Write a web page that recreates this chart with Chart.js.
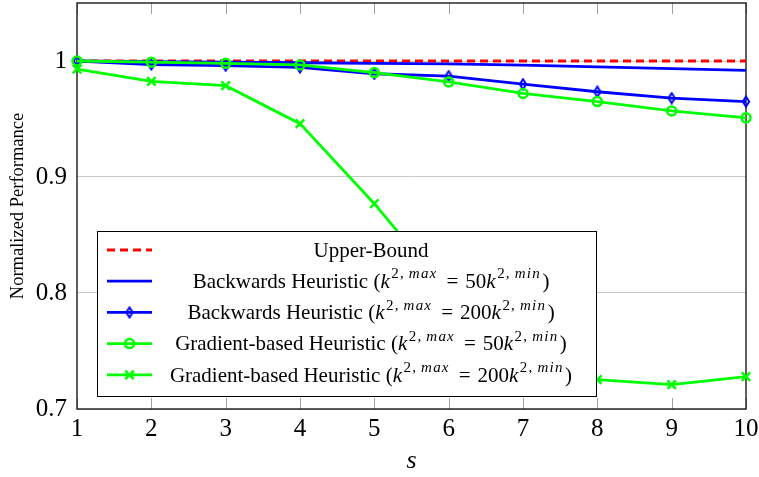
<!DOCTYPE html>
<html>
<head>
<meta charset="utf-8">
<script src="https://cdn.jsdelivr.net/npm/chart.js@4.4.0/dist/chart.umd.min.js"></script>
<style>
  html, body { margin: 0; padding: 0; background: #fff; }
  #wrap { width: 759px; height: 477px; }
</style>
</head>
<body>
<div id="wrap"><canvas id="perf"></canvas></div>
<script>
// s values on the x axis
const sValues = ['1', '2', '3', '4', '5', '6', '7', '8', '9', '10'];
const yTicks = [0.7, 0.8, 0.9, 1];

// normalized performance per heuristic
const upperBound   = [1, 1, 1, 1, 1, 1, 1, 1, 1, 1];
const backwards50  = [1.000, 0.9995, 0.999, 0.9985, 0.998, 0.9975, 0.9965, 0.995, 0.9935, 0.992];
const backwards200 = [1.000, 0.997, 0.996, 0.9945, 0.989, 0.987, 0.980, 0.9735, 0.968, 0.965];
const gradient50   = [1.000, 0.999, 0.998, 0.9966, 0.990, 0.982, 0.972, 0.965, 0.957, 0.951];
const gradient200  = [0.993, 0.9825, 0.9787, 0.946, 0.877, 0.80, 0.75, 0.7253, 0.721, 0.728];

const seriesNames = ['Upper-Bound', 'Backwards Heuristic', 'Backwards Heuristic',
                     'Gradient-based Heuristic', 'Gradient-based Heuristic'];
const kRatios = [null, 50, 200, 50, 200];

const SERIF = "'Liberation Serif', 'Times New Roman', serif";
const RED = '#ff0000', BLUE = '#0000ff', GREEN = '#00ff00';

// tall diamond marker (chart.js rectRot is square)
function makeDiamond(color) {
  const c = document.createElement('canvas');
  c.width = 10; c.height = 13;
  const g = c.getContext('2d');
  g.strokeStyle = color;
  g.lineWidth = 2;
  g.beginPath();
  g.moveTo(5, 1.5); g.lineTo(8.2, 6.5); g.lineTo(5, 11.5); g.lineTo(1.8, 6.5);
  g.closePath();
  g.stroke();
  return c;
}
const diamond = makeDiamond(BLUE);

const datasets = [
  { data: upperBound, borderColor: RED, borderDash: [8, 5], pointRadius: 0, order: 5 },
  { data: backwards50, borderColor: BLUE, pointRadius: 0, order: 4 },
  { data: backwards200, borderColor: BLUE, pointStyle: diamond, pointRadius: 5, order: 3 },
  { data: gradient50, borderColor: GREEN, pointStyle: 'circle', pointRadius: 4.5,
    pointBorderWidth: 2.5, pointBackgroundColor: 'rgba(0,0,0,0)', order: 2 },
  { data: gradient200, borderColor: GREEN, pointStyle: 'crossRot', pointRadius: 6,
    pointBorderWidth: 2.5, order: 1 }
].map(d => Object.assign({ borderWidth: 2.8, tension: 0, clip: false, fill: false }, d));

// box, inside ticks
const framePlugin = {
  id: 'frame',
  beforeDatasetsDraw(chart) {
    const { ctx, chartArea: a, scales } = chart;
    ctx.save();
    ctx.strokeStyle = '#a0a0a0';
    ctx.lineWidth = 1;
    scales.x.ticks.forEach((t, i) => {
      const x = Math.round(scales.x.getPixelForTick(i)) + 0.5;
      ctx.beginPath();
      ctx.moveTo(x, a.bottom); ctx.lineTo(x, a.bottom - 11);
      ctx.moveTo(x, a.top); ctx.lineTo(x, a.top + 11);
      ctx.stroke();
    });
    ctx.strokeStyle = '#1a1a1a';
    ctx.lineWidth = 1.4;
    ctx.strokeRect(a.left, a.top, a.right - a.left, a.bottom - a.top);
    ctx.restore();
  }
};

// label pieces: text, font, raise, letter spacing, gap after
function labelParts(name, ratio) {
  const main = '21px ' + SERIF, it = 'italic 21px ' + SERIF;
  const sup = '15px ' + SERIF, supIt = 'italic 15px ' + SERIF;
  if (ratio === null) return [{ t: name, f: main }];
  return [
    { t: name + ' (', f: main },
    { t: 'k', f: it, after: 1.5 },
    { t: '2,', f: sup, up: 9.5, ls: 1.2, after: 4 },
    { t: 'max', f: supIt, up: 9.5, ls: 1.2, after: 9 },
    { t: '=', f: main, after: 7 },
    { t: String(ratio), f: main },
    { t: 'k', f: it, after: 1.5 },
    { t: '2,', f: sup, up: 9.5, ls: 1.2, after: 4 },
    { t: 'min', f: supIt, up: 9.5, ls: 1.2, after: 1.5 },
    { t: ')', f: main }
  ];
}

function partWidth(ctx, p) {
  ctx.font = p.f;
  const ls = p.ls || 0;
  let w = 0;
  for (const ch of p.t) w += ctx.measureText(ch).width + ls;
  if (!ls) w = ctx.measureText(p.t).width;
  return w + (p.after || 0);
}

function drawPart(ctx, p, x, y) {
  ctx.font = p.f;
  const ls = p.ls || 0;
  if (!ls) { ctx.fillText(p.t, x, y); return; }
  for (const ch of p.t) {
    ctx.fillText(ch, x, y);
    x += ctx.measureText(ch).width + ls;
  }
}

function drawSample(ctx, ds, x0, x1, y) {
  ctx.save();
  ctx.strokeStyle = ds.borderColor;
  ctx.lineWidth = ds.borderWidth;
  ctx.setLineDash(ds.borderDash || []);
  ctx.beginPath();
  ctx.moveTo(x0, y); ctx.lineTo(x1, y);
  ctx.stroke();
  ctx.setLineDash([]);
  const cx = (x0 + x1) / 2;
  if (ds.pointStyle === diamond) {
    ctx.drawImage(diamond, cx - diamond.width / 2, y - diamond.height / 2);
  } else if (ds.pointStyle === 'circle') {
    ctx.lineWidth = ds.pointBorderWidth;
    ctx.beginPath();
    ctx.arc(cx, y, ds.pointRadius, 0, Math.PI * 2);
    ctx.stroke();
  } else if (ds.pointStyle === 'crossRot') {
    const o = Math.cos(Math.PI / 4) * ds.pointRadius;
    ctx.lineWidth = ds.pointBorderWidth;
    ctx.beginPath();
    ctx.moveTo(cx - o, y - o); ctx.lineTo(cx + o, y + o);
    ctx.moveTo(cx - o, y + o); ctx.lineTo(cx + o, y - o);
    ctx.stroke();
  }
  ctx.restore();
}

// legend with math labels, drawn over the plot
const mathLegend = {
  id: 'mathLegend',
  afterDraw(chart) {
    const ctx = chart.ctx;
    const box = { x: 97.5, y: 231.5, w: 499, h: 165 };
    ctx.save();
    ctx.fillStyle = '#fff';
    ctx.fillRect(box.x, box.y, box.w, box.h);
    ctx.strokeStyle = '#000';
    ctx.lineWidth = 1;
    ctx.strokeRect(box.x, box.y, box.w, box.h);
    ctx.fillStyle = '#000';
    ctx.textBaseline = 'alphabetic';
    chart.data.datasets.forEach((ds, i) => {
      const y = 250 + i * 31.2;
      drawSample(ctx, ds, 107, 152, y);
      const parts = labelParts(seriesNames[i], kRatios[i]);
      let w = 0;
      parts.forEach(p => { p.w = partWidth(ctx, p); w += p.w; });
      let x = 371 - w / 2;
      parts.forEach(p => {
        drawPart(ctx, p, x, y + 6.7 - (p.up || 0));
        x += p.w;
      });
    });
    ctx.restore();
  }
};

new Chart(document.getElementById('perf'), {
  type: 'line',
  data: { labels: sValues, datasets: datasets },
  options: {
    responsive: true,
    maintainAspectRatio: false,
    animation: false,
    devicePixelRatio: 1,
    layout: { autoPadding: false, padding: { top: 3, right: 13, left: 0, bottom: 0 } },
    plugins: { legend: { display: false }, tooltip: { enabled: false } },
    scales: {
      x: {
        offset: false,
        grid: { display: false, drawTicks: false },
        border: { display: false },
        ticks: { color: '#000', font: { family: SERIF, size: 25 }, padding: 5,
                 maxRotation: 0, autoSkip: false },
        title: { display: true, text: 's', color: '#000',
                 font: { family: SERIF, size: 26, style: 'italic' }, padding: { top: 0, bottom: 0 } },
        afterFit(s) { s.height = 68; s.paddingLeft = 0; s.paddingRight = 0; }
      },
      y: {
        min: 0.7,
        max: 1.05,
        afterBuildTicks(s) { s.ticks = yTicks.map(v => ({ value: v })); },
        grid: { color: '#c8c8c8', lineWidth: 1, drawTicks: false },
        border: { display: false },
        ticks: { color: '#000', font: { family: SERIF, size: 25 }, padding: 10,
                 callback: v => (v === 1 ? '1' : v.toFixed(1)) },
        title: { display: true, text: 'Normalized Performance', color: '#000',
                 font: { family: SERIF, size: 18.5 }, padding: { top: 7, bottom: 0 } },
        afterFit(s) { s.width = 77; s.paddingTop = 0; s.paddingBottom = 0; }
      }
    }
  },
  plugins: [framePlugin, mathLegend]
});
</script>
</body>
</html>
